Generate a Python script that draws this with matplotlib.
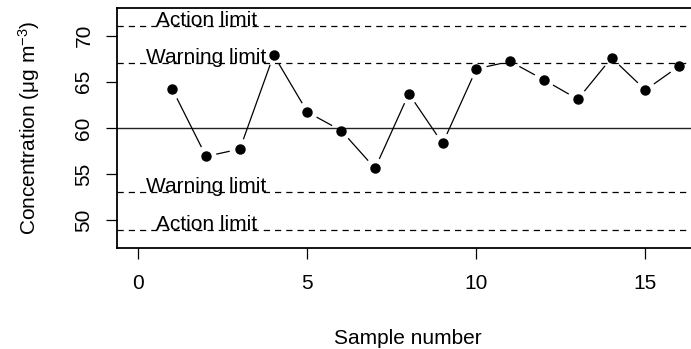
import numpy as np
import matplotlib
matplotlib.use('Agg')
import matplotlib.pyplot as plt

plt.rcParams['font.family'] = ['Liberation Sans', 'DejaVu Sans']
plt.rcParams['mathtext.fontset'] = 'custom'
plt.rcParams['mathtext.rm'] = 'Liberation Sans'
plt.rcParams['mathtext.it'] = 'Liberation Sans'

# ---- data ----
sample = np.arange(1, 17)
conc = [64.2, 56.9, 57.7, 67.9, 61.7, 59.7, 55.6, 63.7,
        58.3, 66.4, 67.2, 65.2, 63.1, 67.6, 64.1, 66.7]
target = 60.0
warning = [67.0, 53.0]
action = [71.1, 48.9]

fig = plt.figure(figsize=(6.91, 3.49), dpi=100)
ax = fig.add_axes([117 / 691, 101 / 349, 574 / 691, 240 / 349])
ax.set_xlim(-0.636, 16.35)
ax.set_ylim(46.96, 73.0)

# reference lines
ax.axhline(target, color='#222222', lw=1.0)
for y in warning + action:
    ax.axhline(y, color='black', lw=0.9, ls=(0, (5, 4)))

# labels on lines (centred at x=2, baseline on the line)
for y in action:
    ax.text(2, y, 'Action limit', ha='center', va='baseline', fontsize=15)
for y in warning:
    ax.text(2, y, 'Warning limit', ha='center', va='baseline', fontsize=15)

# points + R type="b" style lines with gaps
pix = ax.transData.transform(np.column_stack([sample, conc]))
gap = 11.0
for i in range(len(pix) - 1):
    p0, p1 = pix[i], pix[i + 1]
    d = p1 - p0
    L = np.hypot(*d)
    if L <= 2 * gap:
        continue
    u = d / L
    a = ax.transData.inverted().transform(p0 + u * gap)
    b = ax.transData.inverted().transform(p1 - u * gap)
    ax.plot([a[0], b[0]], [a[1], b[1]], color='black', lw=0.9)
ax.plot(sample, conc, 'o', color='black', ms=6.5, ls='none')

# axes styling
ax.spines['right'].set_visible(False)
for s in ['left', 'top', 'bottom']:
    ax.spines[s].set_linewidth(1.3)
ax.set_xticks([0, 5, 10, 15])
ax.set_yticks([50, 55, 60, 65, 70])
ax.tick_params(axis='both', length=8, width=0.9, labelsize=15)
ax.tick_params(axis='x', pad=11)
ax.tick_params(axis='y', pad=9, labelrotation=90)
for t in ax.get_yticklabels():
    t.set_va('center')

ax.set_xlabel('Sample number', fontsize=15)
ax.set_ylabel('Concentration (μg m$^{-3}$)', fontsize=15)
ax.xaxis.set_label_coords(0.506, -0.375)
ax.xaxis.label.set_va('center')
ax.yaxis.set_label_coords(-0.153, 0.5)
ax.yaxis.label.set_va('center')

fig.savefig('out.png', dpi=100)
